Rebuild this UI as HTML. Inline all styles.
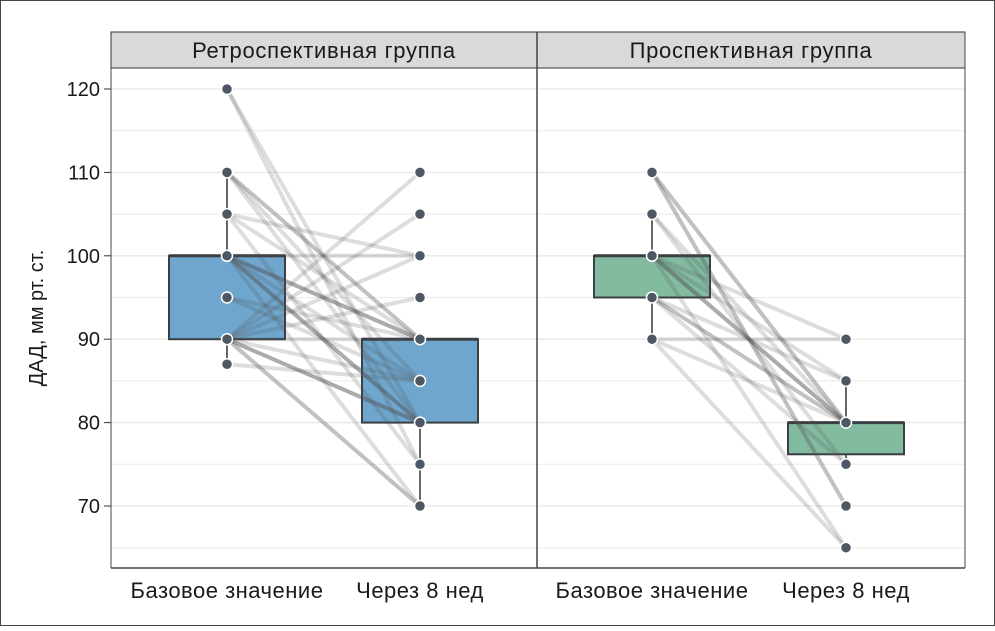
<!DOCTYPE html>
<html><head><meta charset="utf-8"><style>
body{margin:0;background:#fff}
svg text{font-family:"Liberation Sans",sans-serif}
</style></head><body>
<svg id="c" width="995" height="626" viewBox="0 0 995 626">
<rect x="0.5" y="0.5" width="994" height="625" fill="#fff" stroke="#444"/>
</svg>
<script>
const yTicks=[70,80,90,100,110,120];
const minorTicks=[65,75,85,95,105,115];
const panels=["Ретроспективная группа","Проспективная группа"];
const xCats=["Базовое значение","Через 8 нед"];
const boxLeftBase=[90,100,100]; const boxLeftWeek=[80,90,90];
const boxRightBase=[95,100,100]; const boxRightWeek=[76.2,80,80];
const whiskLeftBase=[87,110]; const whiskLeftWeek=[70,90];
const whiskRightBase=[90,105]; const whiskRightWeek=[75,85];
const leftFrom=[120,120,110,110,110,110,105,105,105,100,100,100,100,100,100,100,100,100,95,95,90,90,90,90,90,90,90,90,90,90,90,87];
const leftTo=[80,75,90,90,80,85,100,90,75,100,90,90,90,85,80,80,80,70,85,90,110,105,100,95,90,80,80,80,70,70,85,85];
const rightFrom=[110,110,110,110,105,105,100,100,100,100,100,100,95,95,95,95,90,90,90];
const rightTo=[80,80,70,70,75,80,80,80,80,90,85,65,80,80,85,75,90,80,65];
const leftPts=[120,110,105,100,95,90,87,110,105,100,95,90,85,80,75,70];
const rightPts=[110,105,100,95,90,90,85,80,75,70,65];
const svg=document.getElementById('c');const NS='http://www.w3.org/2000/svg';
function y(v){return 506-(v-70)*8.34;}
const px=[[111,537,227,420],[537,965,652,846]];
function mk(t,a,p){const e=document.createElementNS(NS,t);for(const k in a)e.setAttribute(k,a[k]);(p||svg).appendChild(e);return e;}
px.forEach((p,i)=>{
 const g=mk('g',{});
 
 
 const s=mk('rect',{x:p[0],y:32,width:p[1]-p[0],height:36,fill:'#d9d9d9',stroke:'#333','stroke-width':1},g);
 
 
 const st=mk('text',{x:(p[0]+p[1])/2,y:58,'text-anchor':'middle','font-size':22,'letter-spacing':0.7,fill:'#1a1a1a'},g);st.textContent=panels[i];
 
 
 minorTicks.concat(yTicks).forEach(v=>{const l=mk('line',{x1:p[0],x2:p[1],y1:y(v),y2:y(v),stroke:'#ebebeb','stroke-width':yTicks.includes(v)?1.6:1},g);
  
  });
 xCats.forEach((c,j)=>{const t=mk('text',{x:p[2+j],y:598,'text-anchor':'middle','font-size':22,'letter-spacing':0.5,fill:'#1a1a1a'},g);t.textContent=c;
  
  });
});
mk('line',{x1:537,x2:537,y1:32,y2:568,stroke:'#444','stroke-width':1.5});
mk('line',{x1:111,x2:965,y1:568,y2:568,stroke:'#444','stroke-width':1.5});
mk('line',{x1:111,x2:111,y1:68,y2:568,stroke:'#444','stroke-width':1});
mk('line',{x1:965,x2:965,y1:32,y2:568,stroke:'#444','stroke-width':1});
yTicks.forEach(v=>{const t=mk('text',{x:100,y:y(v)+7,'text-anchor':'end','font-size':20,fill:'#1a1a1a'});t.textContent=v;
 
 
 mk('line',{x1:104,x2:111,y1:y(v),y2:y(v),stroke:'#333'});});
const yt=mk('text',{x:0,y:0,transform:'translate(43,318) rotate(-90)','text-anchor':'middle','font-size':20,fill:'#1a1a1a'});yt.textContent='ДАД, мм рт. ст.';


function box(cx,q,w,fill){
 mk('line',{x1:cx,x2:cx,y1:y(w[0]),y2:y(w[1]),stroke:'#333','stroke-width':1.5});
 const r=mk('rect',{x:cx-58,y:y(q[2]),width:116,height:y(q[0])-y(q[2]),fill:fill,stroke:'#3a3f44','stroke-width':2});
 
 
 mk('line',{x1:cx-58,x2:cx+58,y1:y(q[1]),y2:y(q[1]),stroke:'#3a3f44','stroke-width':3});
}
box(227,boxLeftBase,whiskLeftBase,'#6fa6cd');box(420,boxLeftWeek,whiskLeftWeek,'#6fa6cd');
box(652,boxRightBase,whiskRightBase,'#82bba0');box(846,boxRightWeek,whiskRightWeek,'#82bba0');
function lines(f,t,x1,x2){f.forEach((v,i)=>{const l=mk('line',{x1:x1,x2:x2,y1:y(v),y2:y(t[i]),stroke:'#555','stroke-width':4,'stroke-opacity':0.2});
 
 });}
lines(leftFrom,leftTo,227,420);lines(rightFrom,rightTo,652,846);
function pts(arr,xa,xb,split){arr.forEach((v,i)=>{const cx=i<split?xa:xb;
 const c=mk('circle',{cx:cx,cy:y(v),r:5.5,fill:'#4d5864',stroke:'#fff','stroke-width':1.5});
 
 });}
pts(leftPts,227,420,7);pts(rightPts,652,846,5);
</script>
</body></html>
